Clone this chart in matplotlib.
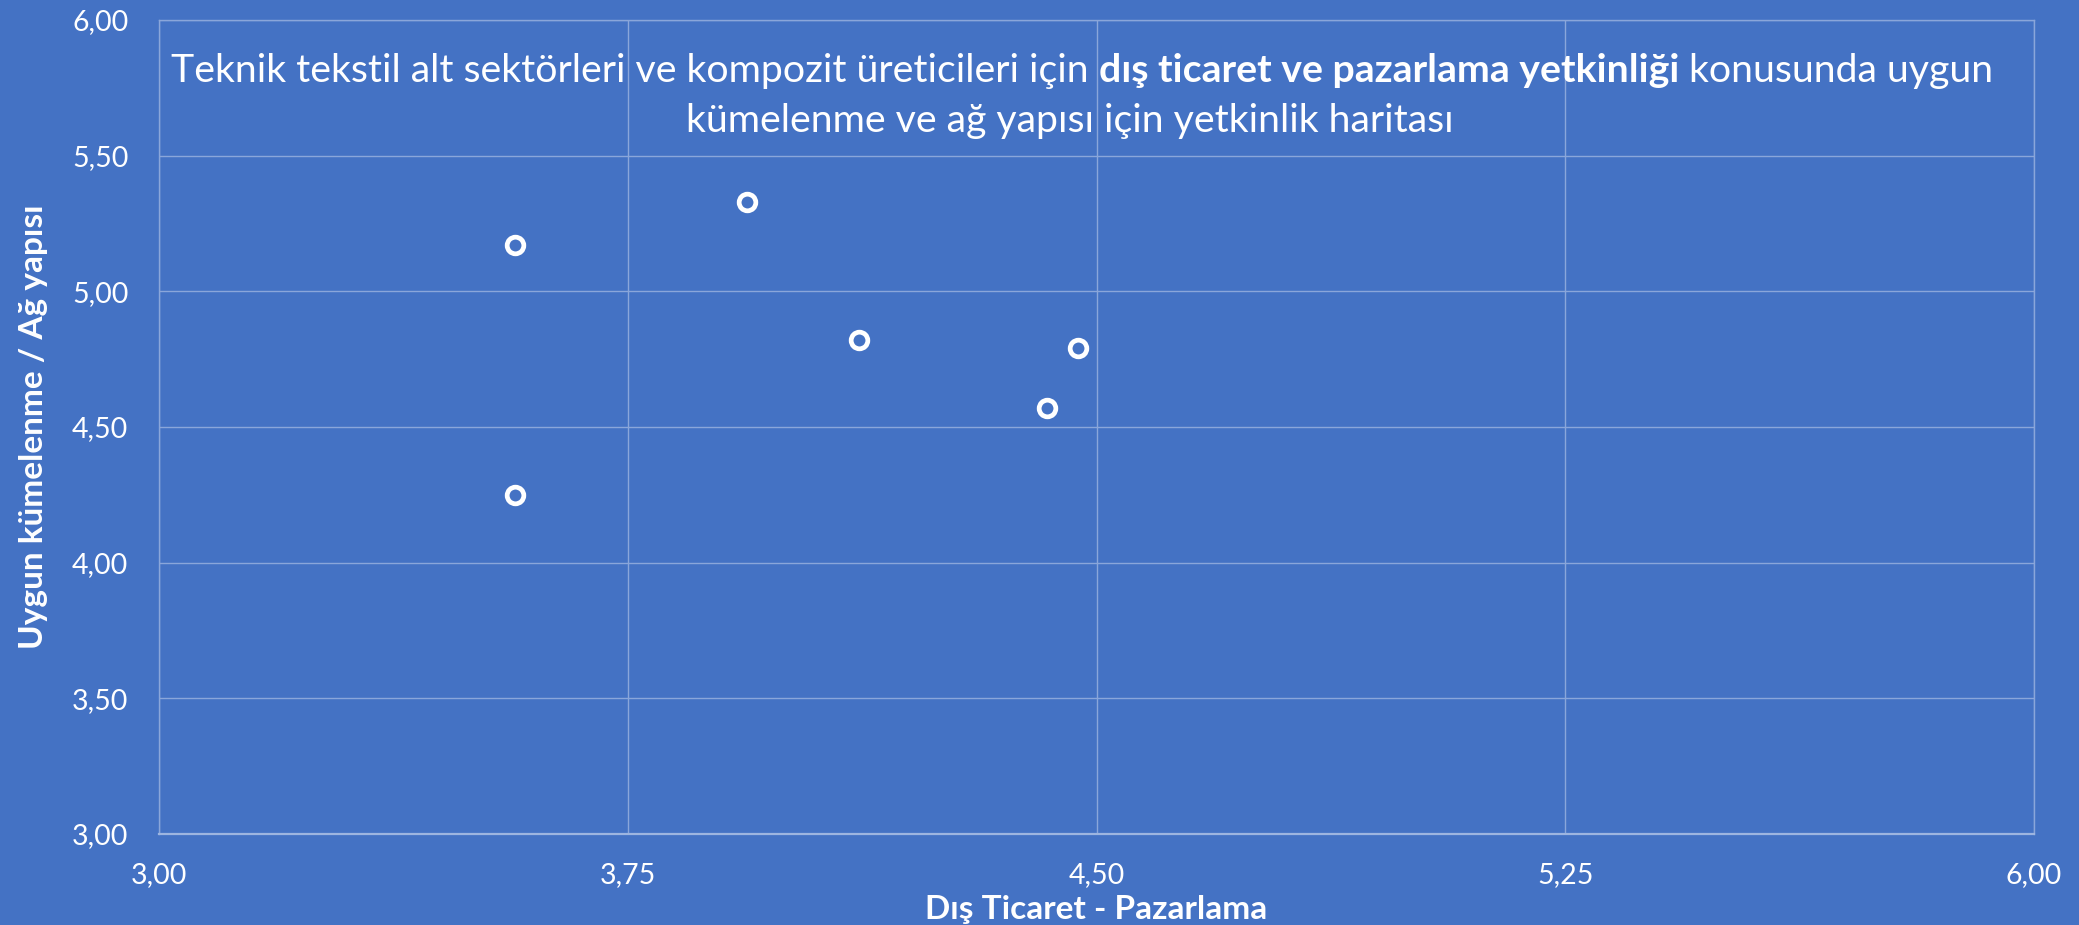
import matplotlib.pyplot as plt
from matplotlib.ticker import FixedLocator, FuncFormatter

# ── data ─────────────────────────────────────────────────────────────
x_vals = [3.57, 3.94, 4.12, 4.47, 4.42, 3.57]   # Dış Ticaret - Pazarlama
y_vals = [5.17, 5.33, 4.82, 4.79, 4.57, 4.25]   # Uygun kümelenme / Ağ yapısı
x_ticks = [3.00, 3.75, 4.50, 5.25, 6.00]
y_ticks = [3.00, 3.50, 4.00, 4.50, 5.00, 5.50, 6.00]

title_a = "Teknik tekstil alt sektörleri ve kompozit üreticileri için "
title_b = "dış ticaret ve pazarlama yetkinliği"
title_c = " konusunda uygun"
title_2 = "kümelenme ve ağ yapısı için yetkinlik haritası"
x_label = "Dış Ticaret - Pazarlama"
y_label = "Uygun kümelenme / Ağ yapısı"

# ── style ────────────────────────────────────────────────────────────
BG = "#4472C4"
GRID = "#8AA6DA"
plt.rcParams["font.family"] = ["Lato", "DejaVu Sans"]

W, H, DPI = 2079, 925, 100
fig = plt.figure(figsize=(W / DPI, H / DPI), dpi=DPI, facecolor=BG)
ax = fig.add_axes([159 / W, 1 - 834 / H, (2034 - 159) / W, (834 - 20) / H])
ax.set_facecolor(BG)

ax.scatter(x_vals, y_vals, s=12 ** 2, facecolor=BG, edgecolor="white",
           linewidth=3.4, zorder=3)

ax.set_xlim(3, 6)
ax.set_ylim(3, 6)
ax.xaxis.set_major_locator(FixedLocator(x_ticks))
ax.yaxis.set_major_locator(FixedLocator(y_ticks))
fmt = FuncFormatter(lambda v, p: f"{v:.2f}".replace(".", ","))
ax.xaxis.set_major_formatter(fmt)
ax.yaxis.set_major_formatter(fmt)
ax.tick_params(length=0, labelsize=20.5, labelcolor="white")
ax.tick_params(axis="x", pad=20)
ax.tick_params(axis="y", pad=22)
ax.grid(True, color=GRID, lw=1.0)
for s in ax.spines.values():
    s.set_color(GRID)
    s.set_linewidth(1.0)
ax.spines["bottom"].set_color("#9DB5E0")
ax.spines["bottom"].set_linewidth(1.6)

ax.set_xlabel(x_label, fontsize=24, fontweight="bold", color="white", labelpad=5)
ax.set_ylabel(y_label, fontsize=24, fontweight="bold", color="white", labelpad=17)

# ── title: mixed bold text inside the plot area ─────────────────────
fs = 28.3
renderer = fig.canvas.get_renderer()
t1 = fig.text(0, 0, title_a, fontsize=fs, color="white")
t2 = fig.text(0, 0, title_b, fontsize=fs, color="white", fontweight="bold")
t3 = fig.text(0, 0, title_c, fontsize=fs, color="white")
widths = [t.get_window_extent(renderer).width for t in (t1, t2, t3)]
total = sum(widths)
cx = 1082
x0 = cx - total / 2
y1 = 1 - 82 / H
for t, w in zip((t1, t2, t3), widths):
    t.set_position((x0 / W, y1))
    t.set_va("baseline")
    x0 += w
fig.text(1070 / W, 1 - 132 / H, title_2, fontsize=fs, color="white",
         ha="center", va="baseline")

fig.savefig("out.png", dpi=DPI, facecolor=BG)
